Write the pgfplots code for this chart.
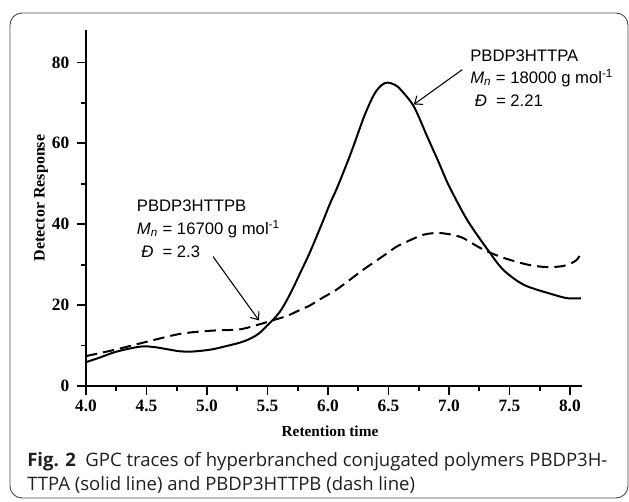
\documentclass[border=0pt]{standalone}
\usepackage{fontspec}
\setmainfont{Liberation Serif}
\newfontfamily\annfont{Liberation Sans}
\newfontfamily\capfont{Open Sans}
\usepackage{pgfplots}
\pgfplotsset{compat=1.18}
\usetikzlibrary{arrows.meta}

\pgfplotstableread{
x y
4.00 5.9
4.12 7.1
4.23 8.3
4.35 9.2
4.47 9.8
4.57 9.6
4.67 9.1
4.77 8.6
4.86 8.5
4.95 8.7
5.05 9.1
5.15 9.8
5.27 10.7
5.35 11.6
5.43 13.0
5.52 15.6
5.58 17.5
5.63 19.6
5.70 23.5
5.77 27.9
5.85 33.0
5.94 39.4
6.02 45.3
6.08 49.3
6.19 57.6
6.30 66.7
6.38 72.0
6.44 74.3
6.49 75.0
6.55 74.5
6.60 73.3
6.71 69.1
6.82 61.7
6.92 55.0
7.00 49.5
7.15 41.1
7.32 33.7
7.45 28.7
7.62 25.0
7.84 22.8
7.98 21.7
8.09 21.7
}\solid

\pgfplotstableread{
x y
4.00 7.4
4.23 8.9
4.47 10.7
4.78 12.9
5.05 13.7
5.27 14.0
5.44 15.3
5.55 16.3
5.66 17.3
5.74 18.4
5.85 19.9
5.96 21.9
6.07 23.8
6.29 28.7
6.45 32.0
6.57 34.5
6.64 35.5
6.79 37.4
6.93 37.8
7.10 36.8
7.26 34.1
7.43 31.9
7.65 30.0
7.81 29.4
7.95 29.7
8.05 31.0
8.09 32.8
}\dashed

\begin{document}
\begin{tikzpicture}
\begin{scope}[x=0.75pt,y=-0.75pt]
\useasboundingbox (0,0) rectangle (629,501);
\draw[black!70, line width=0.7pt, rounded corners=9pt] (10,13) rectangle (628,498);
\end{scope}
\begin{axis}[
  at={(64.5pt,-289.5pt)}, anchor=south west,
  scale only axis, width=372pt, height=267pt,
  xmin=4, xmax=8.1, ymin=0, ymax=88,
  axis x line=bottom, axis y line=left,
  axis line style={-, line width=1.5pt},
  xtick={4,4.5,...,8}, ytick={0,20,40,60,80},
  minor x tick num=1, minor y tick num=1,
  tick align=outside,
  major tick length=7pt, minor tick length=4pt,
  every tick/.style={black, line width=1.3pt},
  xticklabel style={/pgf/number format/fixed, /pgf/number format/fixed zerofill, /pgf/number format/precision=1},
  yticklabel style={xshift=-2pt},
  /pgf/number format/assume math mode=true,
  ticklabel style={font=\bfseries\fontsize{13}{15}\selectfont},
  clip=false,
]
\addplot[black, line width=1.5pt, smooth] table {\solid};
\addplot[black, line width=1.5pt, smooth, dash pattern=on 8.5pt off 4.5pt] table {\dashed};
\draw[-{Straight Barb[length=5pt,width=8pt]}, line width=0.8pt] (axis cs:7.11,78.2) -- (axis cs:6.71,69.6);
\draw[-{Straight Barb[length=5pt,width=8pt]}, line width=0.8pt] (axis cs:5.05,32.0) -- (axis cs:5.43,16.2);
\end{axis}
\begin{scope}[x=0.75pt,y=-0.75pt]
\node[rotate=90, font=\bfseries\fontsize{12}{14}\selectfont] at (41,198) {Detector Response};
\node[anchor=base, font=\bfseries\fontsize{11.5}{13}\selectfont] at (330,436.7) {Retention time};
\begin{scope}[every node/.style={anchor=base west, inner sep=0pt, font=\annfont\fontsize{12.5}{14}\selectfont}]
\node at (470,61) {PBDP3HTTPA};
\node at (470,83.5) {\textit{M}\textsubscript{\textit{n}} = 18000 g mol\textsuperscript{-1}};
\node at (474.5,106) {\textit{Đ}\ \ = 2.21};
\node at (136.7,211.7) {PBDP3HTTPB};
\node at (136.7,234) {\textit{M}\textsubscript{\textit{n}} = 16700 g mol\textsuperscript{-1}};
\node at (141,257) {\textit{Đ}\ \ = 2.3};
\end{scope}
\begin{scope}[every node/.style={anchor=base west, inner sep=0pt, font=\capfont\fontsize{13.9}{16}\selectfont, text=black!88}]
\node at (27,466.7) {\textbf{Fig. 2}\ \ GPC traces of hyperbranched conjugated polymers PBDP3H-};
\node at (27,490) {TTPA (solid line) and PBDP3HTTPB (dash line)};
\end{scope}
\end{scope}
\end{tikzpicture}
\end{document}
